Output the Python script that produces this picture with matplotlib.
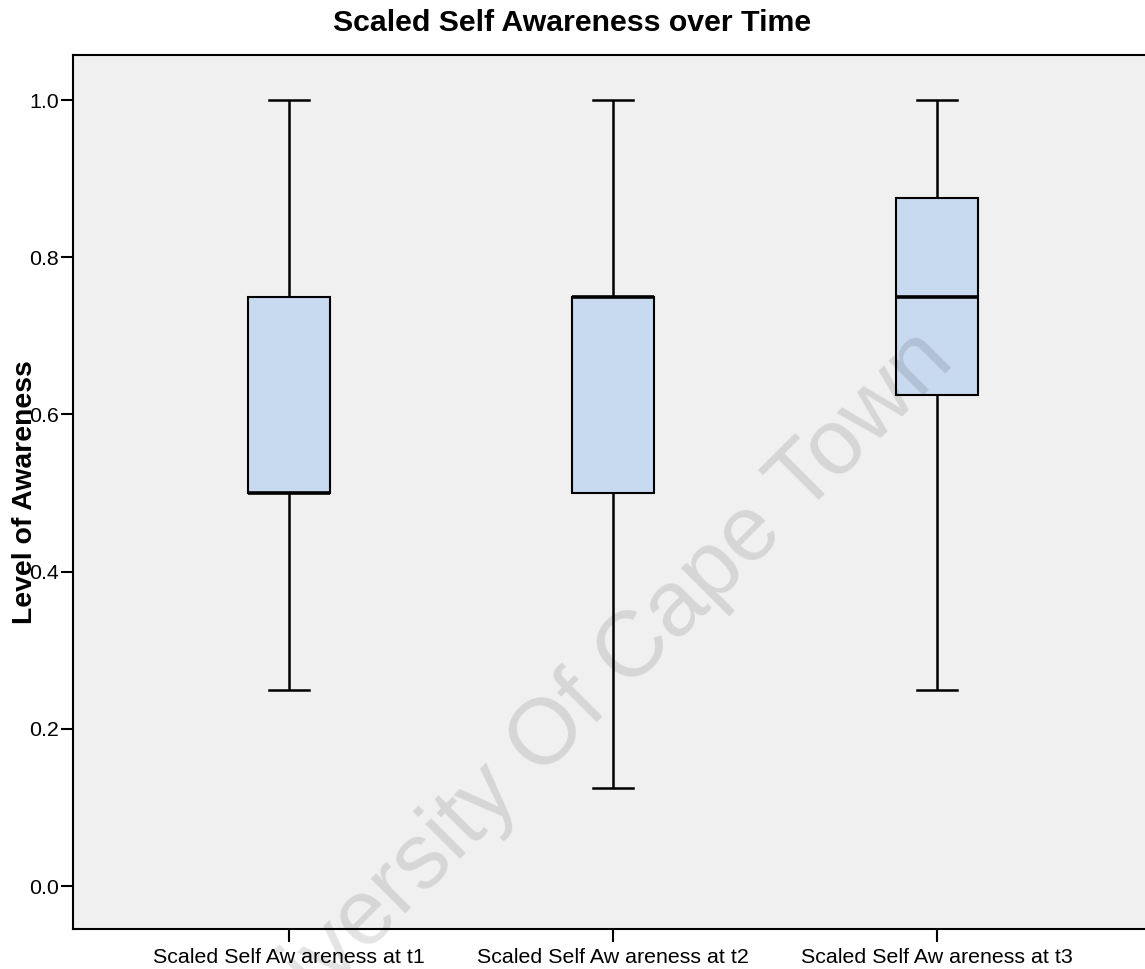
import matplotlib
matplotlib.use("Agg")
import matplotlib.pyplot as plt

# Five-number summaries for each time point
labels = ["Scaled Self Aw areness at t1",
          "Scaled Self Aw areness at t2",
          "Scaled Self Aw areness at t3"]
whisker_low = [0.25, 0.125, 0.25]
q1 = [0.50, 0.50, 0.625]
medians = [0.50, 0.75, 0.75]
q3 = [0.75, 0.75, 0.875]
whisker_high = [1.0, 1.0, 1.0]
yticks = [0.0, 0.2, 0.4, 0.6, 0.8, 1.0]

plt.rcParams['font.family'] = ['Liberation Sans', 'DejaVu Sans']

W, H, DPI = 1145, 969, 100
fig = plt.figure(figsize=(W / DPI, H / DPI), dpi=DPI)
fig.patch.set_facecolor("white")

ax = fig.add_axes([73 / W, 40 / H, (1153 - 73) / W, 874 / H])
ax.set_facecolor("#f0f0f0")

stats = []
for lab, lo, a, m, b, hi in zip(labels, whisker_low, q1, medians, q3, whisker_high):
    stats.append(dict(label=lab, whislo=lo, q1=a, med=m, q3=b, whishi=hi, fliers=[]))

positions = [1, 2, 3]
ax.bxp(stats, positions=positions, widths=0.253, patch_artist=True,
       showfliers=False,
       boxprops=dict(facecolor="#c8daf0", edgecolor="black", linewidth=1.5),
       medianprops=dict(color="black", linewidth=2.6, solid_capstyle="butt"),
       whiskerprops=dict(color="black", linewidth=1.8, solid_capstyle="butt"),
       capprops=dict(color="black", linewidth=1.8),
       capwidths=0.125)

ax.set_xlim(1 - 0.667, 3 + 0.667)
ax.set_ylim(-0.0547, 1.0573)
ax.set_yticks(yticks)
ax.set_yticklabels([f"{v:.1f}" for v in yticks])
ax.set_xticks(positions)
ax.set_xticklabels(labels)

ax.tick_params(axis="both", direction="out", length=9, width=1.5,
               labelsize=15.4, colors="black")
ax.tick_params(axis="y", pad=1)
ax.tick_params(axis="x", pad=5)

for side in ["left", "bottom", "top", "right"]:
    ax.spines[side].set_linewidth(1.5)
    ax.spines[side].set_color("black")

ax.set_ylabel("Level of Awareness", fontsize=20.4, fontweight="bold")
ax.yaxis.set_label_coords((38 - 73) / (1153 - 73), 0.5)

fig.text(0.5, 1 - 23 / H, "Scaled Self Awareness over Time", ha="center",
         va="center", fontsize=21.8, fontweight="bold")

# Institutional watermark across the figure
fig.text(578 / W, 1 - 707 / H, "University Of Cape Town", rotation=45,
         rotation_mode="anchor", ha="center", va="center", fontsize=67,
         color="black", alpha=0.11, zorder=10)

fig.savefig("out.png", dpi=DPI)
